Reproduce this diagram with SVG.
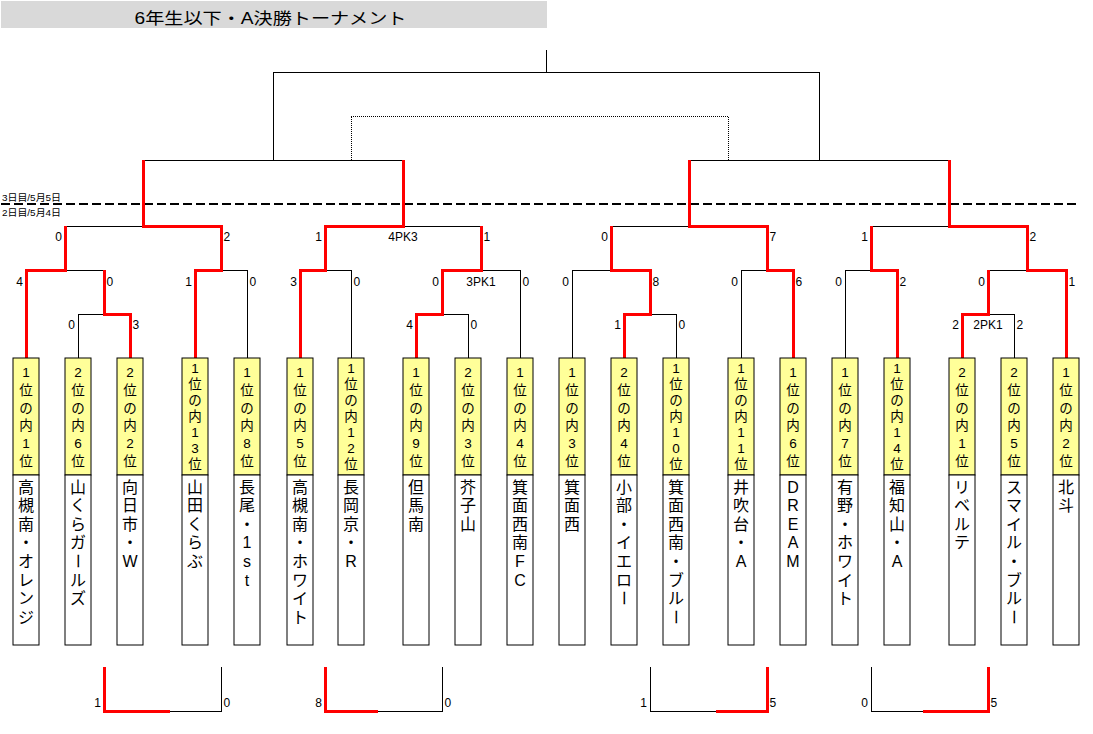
<svg xmlns="http://www.w3.org/2000/svg" width="1093" height="734" viewBox="0 0 1093 734">
<style>
text{font-family:"Liberation Sans","Noto Sans CJK JP",sans-serif;fill:#000}
.s{font-size:12px}
.se{text-anchor:end}
.sm{text-anchor:middle}
.l{font-size:13.5px;text-anchor:middle}
.n{font-size:16px;text-anchor:middle}
.y{fill:#ffff99;stroke:#000;stroke-width:1}
.w{fill:#fff;stroke:#000;stroke-width:1}
.bk{fill:none;stroke:#000;stroke-width:1}
.rd{fill:none;stroke:#ff0000;stroke-width:3}
.dt{fill:none;stroke:#000;stroke-width:1;stroke-dasharray:1 1}
.ds{fill:none;stroke:#000;stroke-width:2;stroke-dasharray:9 4}
</style>
<rect width="1093" height="734" fill="#fff"/>
<g id="title">
<rect x="1" y="1" width="546" height="27" fill="#d9d9d9"/>
<text x="270.5" y="23.5" font-size="16" text-anchor="middle" textLength="272" lengthAdjust="spacingAndGlyphs">6年生以下・A決勝トーナメント</text>
</g>
<g id="day-labels">
<text x="2" y="200.5" font-size="9" textLength="59" lengthAdjust="spacingAndGlyphs">3日目/5月5日</text>
<text x="2" y="215.5" font-size="9" textLength="59" lengthAdjust="spacingAndGlyphs">2日目/5月4日</text>
</g>
<g id="connectors" shape-rendering="crispEdges">
<path class="bk" d="M78 314V358M78 314H104M65 270H104M247 270V358M221 270H247M65 226H143M351 270V358M325 270H351M468 314V358M442 314H468M520 270V358M481 270H520M403 226H481M143 160H403M273 72V160M572 270V358M572 270H611M676 314V358M650 314H676M741 270V358M741 270H767M611 226H689M845 270V358M845 270H871M1014 314V358M988 314H1014M988 270H1027M871 226H949M689 160H949M819 72V160M273 72H819M546 50V72M170 711H221V667M378 711H442V667M650 667V711H716M871 667V711H923"/>
<path class="dt" d="M351 160V116H728V160"/>
<path class="ds" d="M1 204H1078"/>
<path class="rd" d="M26 358V270H65V226M130 358V314H104V270M195 358V270H221V226H143V160M300 358V270H325V226H403V160M416 358V314H442V270H481V226M624 358V314H650V270H611V226M793 358V270H767V226H689V160M897 358V270H871V226M962 358V314H988V270M1066 358V270H1027V226H949V160M104 667V711H170M325 667V711H378M716 711H767V667M923 711H988V667"/>
</g>
<g id="scores" class="s">
<text class="se" x="62" y="241">0</text>
<text x="223.5" y="241">2</text>
<text class="se" x="322" y="241">1</text>
<text class="sm" x="403" y="241">4PK3</text>
<text x="483.5" y="241">1</text>
<text class="se" x="608" y="241">0</text>
<text x="769.5" y="241">7</text>
<text class="se" x="868" y="241">1</text>
<text x="1029.5" y="241">2</text>
<text class="se" x="23" y="286">4</text>
<text x="106.5" y="286">0</text>
<text class="se" x="192" y="286">1</text>
<text x="249.5" y="286">0</text>
<text class="se" x="297" y="286">3</text>
<text x="353.5" y="286">0</text>
<text class="se" x="439" y="286">0</text>
<text class="sm" x="481" y="286">3PK1</text>
<text x="522.5" y="286">0</text>
<text class="se" x="569" y="286">0</text>
<text x="652.5" y="286">8</text>
<text class="se" x="738" y="286">0</text>
<text x="795.5" y="286">6</text>
<text class="se" x="842" y="286">0</text>
<text x="899.5" y="286">2</text>
<text class="se" x="985" y="286">0</text>
<text x="1068.5" y="286">1</text>
<text class="se" x="75" y="329">0</text>
<text x="132.5" y="329">3</text>
<text class="se" x="413" y="329">4</text>
<text x="470.5" y="329">0</text>
<text class="se" x="621" y="329">1</text>
<text x="678.5" y="329">0</text>
<text class="se" x="959" y="329">2</text>
<text class="sm" x="988" y="329">2PK1</text>
<text x="1016.5" y="329">2</text>
<text class="se" x="101" y="707">1</text>
<text x="223.5" y="707">0</text>
<text class="se" x="322" y="707">8</text>
<text x="444.5" y="707">0</text>
<text class="se" x="647" y="707">1</text>
<text x="769.5" y="707">5</text>
<text class="se" x="868" y="707">0</text>
<text x="990.5" y="707">5</text>
</g>
<g id="team-1"><rect class="y" x="13" y="358" width="26" height="117"/><rect class="w" x="13" y="475" width="26" height="170"/>
<text class="l" x="26 26 26 26 26 26" y="377 395 413 430 448 466">1位の内1位</text>
<text class="n" x="26 26 26 26 26 26 26 26" y="493 511 530 548 567 586 604 623">高槻南・オレンジ</text></g>
<g id="team-2"><rect class="y" x="65" y="358" width="26" height="117"/><rect class="w" x="65" y="475" width="26" height="170"/>
<text class="l" x="78 78 78 78 78 78" y="377 395 413 430 448 466">2位の内6位</text>
<text class="n" x="78 78 78 78" y="493 511 530 548">山くらガ</text><text class="n" x="78" y="567" transform="rotate(90 78 561)">ー</text><text class="n" x="78 78" y="586 604">ルズ</text></g>
<g id="team-3"><rect class="y" x="117" y="358" width="26" height="117"/><rect class="w" x="117" y="475" width="26" height="170"/>
<text class="l" x="130 130 130 130 130 130" y="377 395 413 430 448 466">2位の内2位</text>
<text class="n" x="130 130 130 130 130" y="493 511 530 548 567">向日市・W</text></g>
<g id="team-4"><rect class="y" x="182" y="358" width="26" height="117"/><rect class="w" x="182" y="475" width="26" height="170"/>
<text class="l" x="195 195 195 195 195 195 195" y="373 389 405 421 437 453 469">1位の内13位</text>
<text class="n" x="195 195 195 195 195" y="493 511 530 548 567">山田くらぶ</text></g>
<g id="team-5"><rect class="y" x="234" y="358" width="26" height="117"/><rect class="w" x="234" y="475" width="26" height="170"/>
<text class="l" x="247 247 247 247 247 247" y="377 395 413 430 448 466">1位の内8位</text>
<text class="n" x="247 247 247 247 247 247" y="493 511 530 548 567 586">長尾・1st</text></g>
<g id="team-6"><rect class="y" x="287" y="358" width="26" height="117"/><rect class="w" x="287" y="475" width="26" height="170"/>
<text class="l" x="300 300 300 300 300 300" y="377 395 413 430 448 466">1位の内5位</text>
<text class="n" x="300 300 300 300 300 300 300 300" y="493 511 530 548 567 586 604 623">高槻南・ホワイト</text></g>
<g id="team-7"><rect class="y" x="338" y="358" width="26" height="117"/><rect class="w" x="338" y="475" width="26" height="170"/>
<text class="l" x="351 351 351 351 351 351 351" y="373 389 405 421 437 453 469">1位の内12位</text>
<text class="n" x="351 351 351 351 351" y="493 511 530 548 567">長岡京・R</text></g>
<g id="team-8"><rect class="y" x="403" y="358" width="26" height="117"/><rect class="w" x="403" y="475" width="26" height="170"/>
<text class="l" x="416 416 416 416 416 416" y="377 395 413 430 448 466">1位の内9位</text>
<text class="n" x="416 416 416" y="493 511 530">但馬南</text></g>
<g id="team-9"><rect class="y" x="455" y="358" width="26" height="117"/><rect class="w" x="455" y="475" width="26" height="170"/>
<text class="l" x="468 468 468 468 468 468" y="377 395 413 430 448 466">2位の内3位</text>
<text class="n" x="468 468 468" y="493 511 530">芥子山</text></g>
<g id="team-10"><rect class="y" x="507" y="358" width="26" height="117"/><rect class="w" x="507" y="475" width="26" height="170"/>
<text class="l" x="520 520 520 520 520 520" y="377 395 413 430 448 466">1位の内4位</text>
<text class="n" x="520 520 520 520 520 520" y="493 511 530 548 567 586">箕面西南FC</text></g>
<g id="team-11"><rect class="y" x="559" y="358" width="26" height="117"/><rect class="w" x="559" y="475" width="26" height="170"/>
<text class="l" x="572 572 572 572 572 572" y="377 395 413 430 448 466">1位の内3位</text>
<text class="n" x="572 572 572" y="493 511 530">箕面西</text></g>
<g id="team-12"><rect class="y" x="611" y="358" width="26" height="117"/><rect class="w" x="611" y="475" width="26" height="170"/>
<text class="l" x="624 624 624 624 624 624" y="377 395 413 430 448 466">2位の内4位</text>
<text class="n" x="624 624 624 624 624 624" y="493 511 530 548 567 586">小部・イエロ</text><text class="n" x="624" y="604" transform="rotate(90 624 598)">ー</text></g>
<g id="team-13"><rect class="y" x="663" y="358" width="26" height="117"/><rect class="w" x="663" y="475" width="26" height="170"/>
<text class="l" x="676 676 676 676 676 676 676" y="373 389 405 421 437 453 469">1位の内10位</text>
<text class="n" x="676 676 676 676 676 676 676" y="493 511 530 548 567 586 604">箕面西南・ブル</text><text class="n" x="676" y="623" transform="rotate(90 676 617)">ー</text></g>
<g id="team-14"><rect class="y" x="728" y="358" width="26" height="117"/><rect class="w" x="728" y="475" width="26" height="170"/>
<text class="l" x="741 741 741 741 741 741 741" y="373 389 405 421 437 453 469">1位の内11位</text>
<text class="n" x="741 741 741 741 741" y="493 511 530 548 567">井吹台・A</text></g>
<g id="team-15"><rect class="y" x="780" y="358" width="26" height="117"/><rect class="w" x="780" y="475" width="26" height="170"/>
<text class="l" x="793 793 793 793 793 793" y="377 395 413 430 448 466">1位の内6位</text>
<text class="n" x="793 793 793 793 793" y="493 511 530 548 567">DREAM</text></g>
<g id="team-16"><rect class="y" x="832" y="358" width="26" height="117"/><rect class="w" x="832" y="475" width="26" height="170"/>
<text class="l" x="845 845 845 845 845 845" y="377 395 413 430 448 466">1位の内7位</text>
<text class="n" x="845 845 845 845 845 845 845" y="493 511 530 548 567 586 604">有野・ホワイト</text></g>
<g id="team-17"><rect class="y" x="884" y="358" width="26" height="117"/><rect class="w" x="884" y="475" width="26" height="170"/>
<text class="l" x="897 897 897 897 897 897 897" y="373 389 405 421 437 453 469">1位の内14位</text>
<text class="n" x="897 897 897 897 897" y="493 511 530 548 567">福知山・A</text></g>
<g id="team-18"><rect class="y" x="949" y="358" width="26" height="117"/><rect class="w" x="949" y="475" width="26" height="170"/>
<text class="l" x="962 962 962 962 962 962" y="377 395 413 430 448 466">2位の内1位</text>
<text class="n" x="962 962 962 962" y="493 511 530 548">リベルテ</text></g>
<g id="team-19"><rect class="y" x="1001" y="358" width="26" height="117"/><rect class="w" x="1001" y="475" width="26" height="170"/>
<text class="l" x="1014 1014 1014 1014 1014 1014" y="377 395 413 430 448 466">2位の内5位</text>
<text class="n" x="1014 1014 1014 1014 1014 1014 1014" y="493 511 530 548 567 586 604">スマイル・ブル</text><text class="n" x="1014" y="623" transform="rotate(90 1014 617)">ー</text></g>
<g id="team-20"><rect class="y" x="1053" y="358" width="26" height="117"/><rect class="w" x="1053" y="475" width="26" height="170"/>
<text class="l" x="1066 1066 1066 1066 1066 1066" y="377 395 413 430 448 466">1位の内2位</text>
<text class="n" x="1066 1066" y="493 511">北斗</text></g>
</svg>
